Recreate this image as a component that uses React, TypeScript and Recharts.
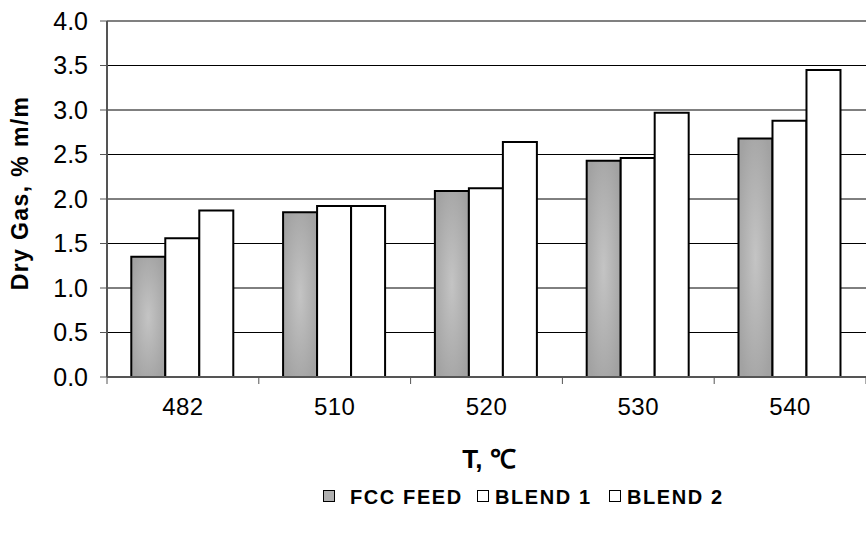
import React from "react"
import {
  BarChart,
  Bar,
  XAxis,
  YAxis,
  CartesianGrid,
  ReferenceLine,
} from "recharts"

const temps = ["482", "510", "520", "530", "540"]
const fccFeed = [1.35, 1.85, 2.09, 2.43, 2.68]
const blend1 = [1.56, 1.92, 2.12, 2.46, 2.88]
const blend2 = [1.87, 1.92, 2.64, 2.97, 3.45]
const yTicks = [0, 0.5, 1, 1.5, 2, 2.5, 3, 3.5, 4]
const legendNames = ["FCC FEED", "BLEND 1", "BLEND 2"]

const data = temps.map((t, i) => ({
  t,
  fcc: fccFeed[i],
  b1: blend1[i],
  b2: blend2[i],
}))

const W = 866
const H = 538
const AXIS_W = 107
const FONT = "'Liberation Sans', Arial, sans-serif"
const step = (W - AXIS_W) / temps.length

function CatTick(props: any) {
  const { x, y, payload, index } = props
  const left = x - step / 2
  return (
    <g>
      <line x1={left} y1={y} x2={left} y2={y + 7} stroke="#555" strokeWidth={1} />
      {index === temps.length - 1 && (
        <line x1={x + step / 2} y1={y} x2={x + step / 2} y2={y + 7} stroke="#555" />
      )}
      <text x={x} y={y + 38} textAnchor="middle" fontSize={24} letterSpacing={0.5} fill="#000" fontFamily={FONT}>
        {payload.value}
      </text>
    </g>
  )
}

function YLabel() {
  const cx = 28
  const cy = 193
  return (
    <text
      x={cx}
      y={cy}
      transform={`rotate(-90 ${cx} ${cy})`}
      textAnchor="middle"
      fontSize={23}
      fontWeight="bold"
      letterSpacing={1.4}
      fontFamily={FONT}
      fill="#000"
    >
      Dry Gas, % m/m
    </text>
  )
}

function XLabel() {
  return (
    <text
      x={489}
      y={468}
      textAnchor="middle"
      fontSize={26}
      fontWeight="bold"
      fontFamily={FONT}
      fill="#000"
    >
      T, ℃
    </text>
  )
}

const legendFills = ["#b0b0b0", "#fff", "#fff"]
const legendIconX = [323, 477, 609]
const legendTextX = [350, 495, 627]

export default function App() {
  return (
    <div style={{ position: "absolute", left: 0, top: 0, width: W, height: H, background: "#fff" }}>
      <BarChart
        width={W}
        height={H}
        data={data}
        margin={{ top: 21, right: 0, left: 0, bottom: 61 }}
        barCategoryGap="16%"
        barGap={0}
      >
        <defs>
          <radialGradient id="gray" cx="50%" cy="50%" r="60%">
            <stop offset="0%" stopColor="#c4c4c4" />
            <stop offset="100%" stopColor="#a2a2a2" />
          </radialGradient>
        </defs>
        <CartesianGrid vertical={false} stroke="#000" strokeWidth={1} />
        <ReferenceLine y={4} stroke="#808080" strokeWidth={2} />
        <XAxis
          dataKey="t"
          height={100}
          tickLine={false}
          tickSize={0}
          tickMargin={0}
          interval={0}
          axisLine={{ stroke: "#555", strokeWidth: 2 }}
          tick={<CatTick />}
          label={<XLabel />}
        />
        <YAxis
          width={AXIS_W}
          domain={[0, 4]}
          ticks={yTicks}
          interval={0}
          tickSize={7}
          tickMargin={12}
          tickFormatter={(v: number) => v.toFixed(1)}
          tick={{ fontSize: 25, fill: "#000", fontFamily: FONT }}
          tickLine={{ stroke: "#555" }}
          axisLine={{ stroke: "#555", strokeWidth: 2 }}
          label={<YLabel />}
        />
        <Bar dataKey="fcc" fill="url(#gray)" stroke="#000" strokeWidth={2} isAnimationActive={false} />
        <Bar dataKey="b1" fill="#fff" stroke="#000" strokeWidth={2} isAnimationActive={false} />
        <Bar dataKey="b2" fill="#fff" stroke="#000" strokeWidth={2} isAnimationActive={false} />
      </BarChart>
      {legendNames.map((name, i) => (
        <React.Fragment key={name}>
          <span
            style={{
              position: "absolute",
              left: legendIconX[i],
              top: 490,
              width: 10,
              height: 10,
              border: "1.5px solid #000",
              background: legendFills[i],
            }}
          />
          <span
            style={{
              position: "absolute",
              left: legendTextX[i],
              top: 484,
              fontFamily: FONT,
              fontWeight: "bold",
              fontSize: 20,
              letterSpacing: 1.6,
              lineHeight: "26px",
              whiteSpace: "nowrap",
              color: "#000",
            }}
          >
            {name}
          </span>
        </React.Fragment>
      ))}
    </div>
  )
}
